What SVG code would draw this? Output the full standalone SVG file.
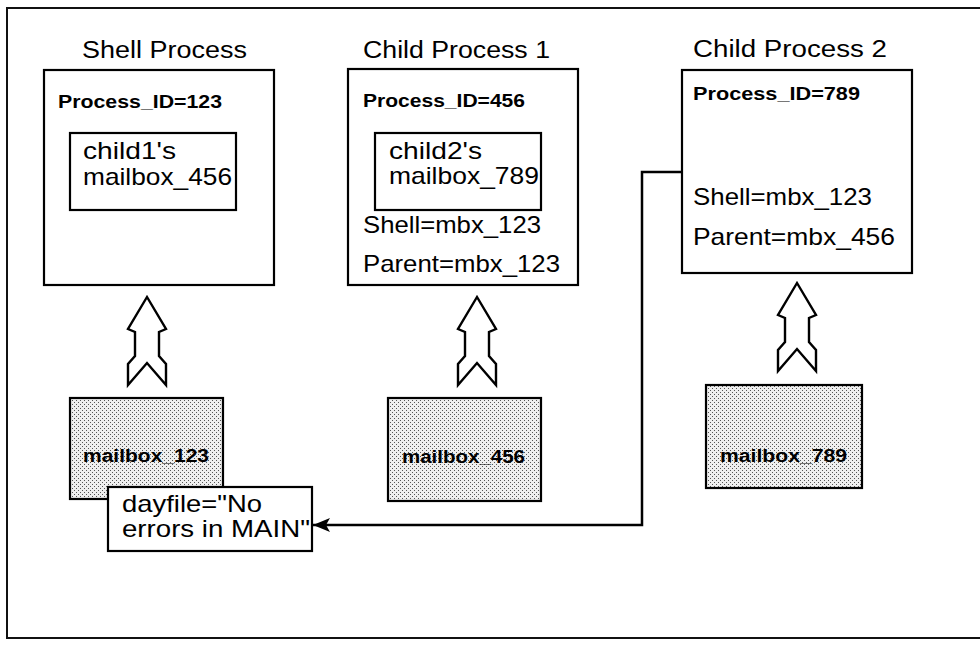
<svg xmlns="http://www.w3.org/2000/svg" width="980" height="650" viewBox="0 0 980 650">
<style>
.box{fill:#fff;stroke:#000;stroke-width:2.2}
.mbx{fill:url(#dots);stroke:#000;stroke-width:2.2}
.frame{fill:none;stroke:#111;stroke-width:2}
.t{font-family:"Liberation Sans",Arial,sans-serif;fill:#000}
.title{font-size:23px}
.reg{font-size:24px}
.bold{font-size:17.5px;font-weight:bold}
.up{fill:#fff;stroke:#000;stroke-width:2.4;stroke-linejoin:miter}
.conn{fill:none;stroke:#000;stroke-width:2.5}
</style>
<defs>
<pattern id="dots" width="4" height="4" patternUnits="userSpaceOnUse">
<rect width="4" height="4" fill="#efefef"/>
<rect x="0" y="0" width="1" height="1" fill="#555"/>
<rect x="2" y="2" width="1" height="1" fill="#555"/>
</pattern>
<marker id="ah" markerWidth="18" markerHeight="14" refX="17" refY="7" orient="auto" markerUnits="userSpaceOnUse">
<path d="M0,0 L17,7 L0,14 L4,7 Z" fill="#000"/>
</marker>
<path id="uparrow" d="M0,0 L-19,32 L-12,35 L-12,59 L-19,67 L-19,88 L0,66 L19,88 L19,67 L12,59 L12,35 L19,32 Z"/>
</defs>
<rect width="980" height="650" fill="#fff"/>
<rect class="frame" x="7" y="8" width="990" height="630"/>

<g id="shell-process">
<text class="t title" x="82" y="58" textLength="165" lengthAdjust="spacingAndGlyphs">Shell Process</text>
<rect class="box" x="44" y="70" width="230" height="215"/>
<text class="t bold" x="58" y="108" textLength="164" lengthAdjust="spacingAndGlyphs">Process_ID=123</text>
<rect class="box" x="70" y="133" width="166" height="77"/>
<text class="t reg" x="83" y="159" textLength="93" lengthAdjust="spacingAndGlyphs">child1's</text>
<text class="t reg" x="83" y="185" textLength="149" lengthAdjust="spacingAndGlyphs">mailbox_456</text>
</g>

<g id="child-process-1">
<text class="t title" x="363" y="58" textLength="187" lengthAdjust="spacingAndGlyphs">Child Process 1</text>
<rect class="box" x="348" y="69" width="230" height="216"/>
<text class="t bold" x="363" y="107" textLength="162" lengthAdjust="spacingAndGlyphs">Process_ID=456</text>
<rect class="box" x="375" y="133" width="166" height="77"/>
<text class="t reg" x="389" y="159" textLength="93" lengthAdjust="spacingAndGlyphs">child2's</text>
<text class="t reg" x="389" y="184" textLength="150" lengthAdjust="spacingAndGlyphs">mailbox_789</text>
<text class="t reg" x="363" y="233" textLength="178" lengthAdjust="spacingAndGlyphs">Shell=mbx_123</text>
<text class="t reg" x="363" y="272" textLength="197" lengthAdjust="spacingAndGlyphs">Parent=mbx_123</text>
</g>

<g id="child-process-2">
<text class="t title" x="693" y="57" textLength="194" lengthAdjust="spacingAndGlyphs">Child Process 2</text>
<rect class="box" x="682" y="70" width="230" height="203"/>
<text class="t bold" x="693" y="100" textLength="167" lengthAdjust="spacingAndGlyphs">Process_ID=789</text>
<text class="t reg" x="693" y="205" textLength="179" lengthAdjust="spacingAndGlyphs">Shell=mbx_123</text>
<text class="t reg" x="693" y="245" textLength="202" lengthAdjust="spacingAndGlyphs">Parent=mbx_456</text>
</g>

<g id="arrow-123"><use href="#uparrow" class="up" transform="translate(147,297)"/></g>
<g id="arrow-456"><use href="#uparrow" class="up" transform="translate(477,297)"/></g>
<g id="arrow-789"><use href="#uparrow" class="up" transform="translate(797,283)"/></g>

<g id="mailbox-123">
<rect class="mbx" x="70" y="398" width="153" height="101"/>
<text class="t bold" x="83" y="462" textLength="126" lengthAdjust="spacingAndGlyphs">mailbox_123</text>
</g>

<g id="mailbox-456">
<rect class="mbx" x="388" y="398" width="153" height="103"/>
<text class="t bold" x="402" y="463" textLength="123" lengthAdjust="spacingAndGlyphs">mailbox_456</text>
</g>

<g id="mailbox-789">
<rect class="mbx" x="706" y="385" width="156" height="103"/>
<text class="t bold" x="720" y="462" textLength="127" lengthAdjust="spacingAndGlyphs">mailbox_789</text>
</g>

<g id="dayfile">
<rect class="box" x="108" y="487" width="204" height="64"/>
<text class="t reg" x="122" y="512" font-size="22" textLength="140" lengthAdjust="spacingAndGlyphs">dayfile="No</text>
<text class="t reg" x="122" y="537" font-size="22" textLength="188" lengthAdjust="spacingAndGlyphs">errors in MAIN"</text>
</g>

<g id="connectors">
<path class="conn" d="M682,172 L642,172 L642,525 L313,525" marker-end="url(#ah)"/>
</g>
</svg>
